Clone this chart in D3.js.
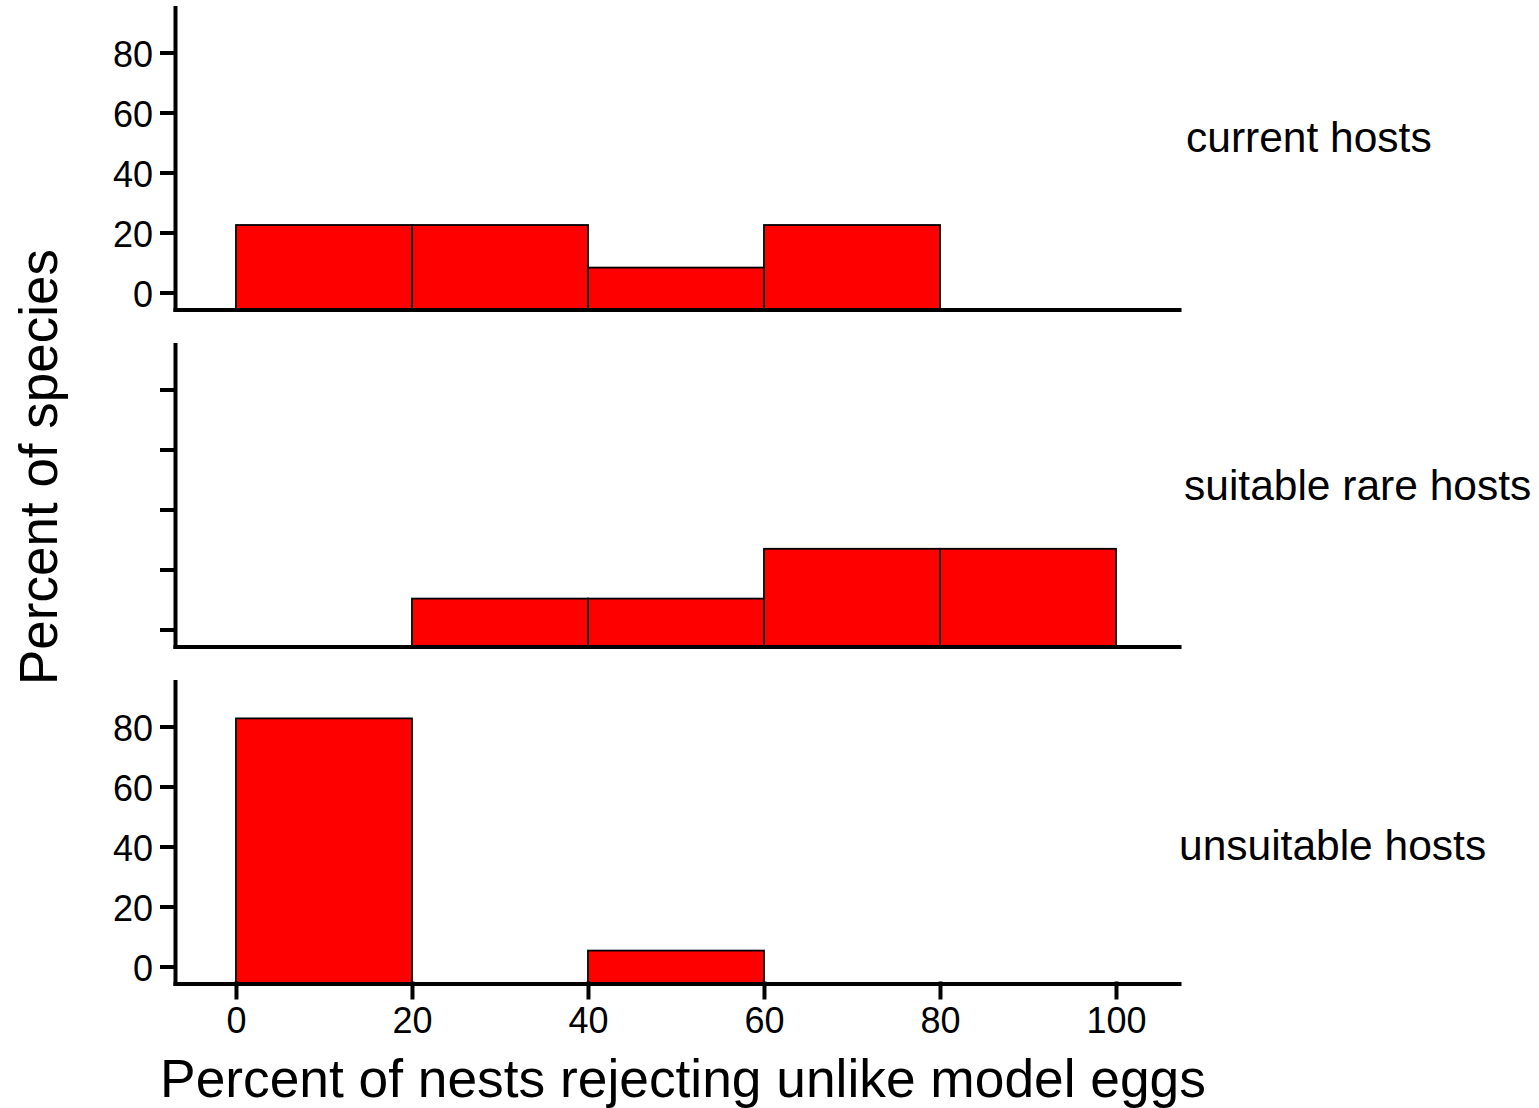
<!DOCTYPE html>
<html>
<head>
<meta charset="utf-8">
<script src="https://cdn.jsdelivr.net/npm/d3@7"></script>
<style>
  html, body { margin: 0; padding: 0; background: #fff; }
  svg { display: block; font-family: "Liberation Sans", Arial, Helvetica, sans-serif; }
</style>
</head>
<body>
<svg id="chart" width="1539" height="1108"></svg>
<script>
// Histogram bin edges (percent of nests rejecting unlike model eggs)
const binEdges = [0, 20, 40, 60, 80, 100];

// Host groups, one facet each
const groups = ["current hosts", "suitable rare hosts", "unsuitable hosts"];

// Bar heights per bin, read on the percent-of-species axis (null = empty bin)
const currentHosts    = [22.5, 22.5, 8.3, 22.5, null];
const suitableRare    = [null, 10.3, 10.3, 26.9, 26.9];
const unsuitableHosts = [82.7, null, 5.3, null, null];

// Tick values and labels
const yTicks = [0, 20, 40, 60, 80];
const xTicks = [0, 20, 40, 60, 80, 100];

const series = [currentHosts, suitableRare, unsuitableHosts];
const showYLabels = [true, false, true];

// Layout
const svg = d3.select("#chart");
const left = 175, right = 1179;
const panelTops = [7.5, 344.5, 681.5];
const panelH = 302;
const labelPos = [{ x: 1186, y: 152 }, { x: 1184, y: 500 }, { x: 1179, y: 860 }];

const x = d3.scaleLinear().domain([-6.93, 107.16]).range([left, right]);

groups.forEach((name, i) => {
  const top = panelTops[i];
  const y = d3.scaleLinear().domain([-5.67, 95]).range([top + panelH, top]);
  const floor = y.range()[0];
  const g = svg.append("g");

  const bins = series[i].map((v, k) => ({ x0: binEdges[k], x1: binEdges[k + 1], v }))
    .filter(d => d.v != null);

  g.selectAll("rect")
    .data(bins)
    .join("rect")
    .attr("x", d => x(d.x0))
    .attr("width", d => x(d.x1) - x(d.x0))
    .attr("y", d => y(d.v))
    .attr("height", d => floor - y(d.v))
    .attr("fill", "#ff0000")
    .attr("stroke", "#000")
    .attr("stroke-width", 1.8);

  // y axis
  const yAxis = d3.axisLeft(y)
    .tickValues(yTicks)
    .tickSize(13)
    .tickSizeOuter(0)
    .tickPadding(9)
    .tickFormat(showYLabels[i] ? d3.format("d") : () => "");
  const ya = g.append("g").attr("transform", `translate(${left},0)`).call(yAxis);
  ya.selectAll(".domain, .tick line").attr("stroke", "#000").attr("stroke-width", 4)
    .attr("stroke-linecap", "square");
  ya.selectAll(".tick text")
    .attr("font-size", 36)
    .attr("fill", "#000")
    .attr("font-family", "Liberation Sans, Arial, sans-serif")
    .attr("dy", "0.40em");

  // x axis (ticks and labels only on the lowest facet)
  const last = i === groups.length - 1;
  const xAxis = d3.axisBottom(x)
    .tickValues(last ? xTicks : [])
    .tickSize(14)
    .tickSizeOuter(0)
    .tickPadding(10)
    .tickFormat(d3.format("d"));
  const xa = g.append("g").attr("transform", `translate(0,${floor})`).call(xAxis);
  xa.selectAll(".domain, .tick line").attr("stroke", "#000").attr("stroke-width", 4)
    .attr("stroke-linecap", "square");
  xa.selectAll(".tick text")
    .attr("font-size", 36)
    .attr("fill", "#000")
    .attr("font-family", "Liberation Sans, Arial, sans-serif");

  // facet label
  svg.append("text")
    .attr("x", labelPos[i].x)
    .attr("y", labelPos[i].y)
    .attr("font-size", 42.5)
    .attr("fill", "#000")
    .text(name);
});

// axis titles
svg.append("text")
  .attr("x", 683)
  .attr("y", 1097)
  .attr("text-anchor", "middle")
  .attr("font-size", 53.3)
  .attr("fill", "#000")
  .text("Percent of nests rejecting unlike model eggs");

svg.append("text")
  .attr("transform", "translate(57,467) rotate(-90)")
  .attr("text-anchor", "middle")
  .attr("font-size", 53)
  .attr("fill", "#000")
  .text("Percent of species");
</script>
</body>
</html>
